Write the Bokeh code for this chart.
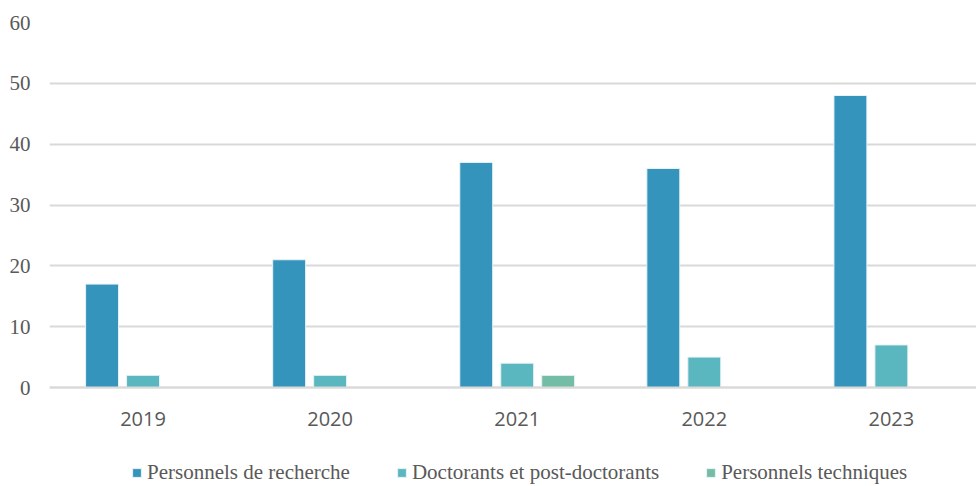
from bokeh.plotting import figure
from bokeh.models import Range1d, FixedTicker, Legend, LegendItem
from bokeh.embed import file_html
from bokeh.resources import INLINE

# ---- data ----
years = ["2019", "2020", "2021", "2022", "2023"]
recherche = [17, 21, 37, 36, 48]
doctorants = [2, 2, 4, 5, 7]
techniques = [0, 0, 2, 0, 0]
series_names = ["Personnels de recherche", "Doctorants et post-doctorants", "Personnels techniques"]
y_ticks = [0, 10, 20, 30, 40, 50, 60]

colors = ["#3594BB", "#5AB7C0", "#74BDA5"]
series = [recherche, doctorants, techniques]
offsets = [-0.219, 0.0, 0.219]
bar_w = 0.176

centers = [i + 0.5 for i in range(len(years))]

# frame spans the full height below the top border; the space under y=0 holds
# the category labels (axis drawn at y=0) and the legend
p = figure(width=976, height=486, output_backend="svg", toolbar_location=None,
           x_range=Range1d(0, 4.955), y_range=Range1d(-16.27, 60),
           min_border_left=49, min_border_right=0, min_border_top=22,
           min_border_bottom=0)
p.outline_line_color = None
p.background_fill_color = "white"
p.border_fill_color = "white"

renderers = []
for vals, off, col in zip(series, offsets, colors):
    xs = [c + off for c in centers]
    r = p.vbar(x=xs, top=vals, width=bar_w, bottom=0, fill_color=col,
               line_color="#e8f2f6", line_width=1)
    renderers.append(r)

# axes
p.xaxis.fixed_location = 0
p.xaxis.ticker = FixedTicker(ticks=centers)
p.xaxis.major_label_overrides = {c: y for c, y in zip(centers, years)}
p.xaxis.axis_line_color = "#d9d9d9"
p.xaxis.axis_line_width = 2
p.xaxis.major_tick_line_color = None
p.xaxis.major_tick_out = 0
p.xaxis.major_tick_in = 0
p.xaxis.minor_tick_line_color = None
p.xaxis.major_label_text_font = "Open Sans"
p.xaxis.major_label_text_font_size = "20px"
p.xaxis.major_label_text_color = "#595959"
p.xaxis.major_label_standoff = 24

p.yaxis.ticker = FixedTicker(ticks=y_ticks)
p.yaxis.axis_line_color = None
p.yaxis.major_tick_line_color = None
p.yaxis.major_tick_out = 0
p.yaxis.major_tick_in = 0
p.yaxis.minor_tick_line_color = None
p.yaxis.major_label_text_font = "Liberation Serif"
p.yaxis.major_label_text_font_size = "21px"
p.yaxis.major_label_text_color = "#595959"
p.yaxis.major_label_standoff = 19

p.xgrid.grid_line_color = None
p.ygrid.grid_line_color = "#d9d9d9"
p.ygrid.grid_line_width = 2

legend = Legend(items=[LegendItem(label=n, renderers=[r]) for n, r in zip(series_names, renderers)],
                orientation="horizontal", location=(82, 1),
                glyph_width=11, glyph_height=11, label_standoff=5, spacing=46,
                padding=0, margin=0, border_line_color=None, background_fill_alpha=0,
                label_text_font="Liberation Serif", label_text_font_size="21px",
                label_text_color="#595959")
p.add_layout(legend)

open("out.html", "w").write(file_html(p, INLINE))
